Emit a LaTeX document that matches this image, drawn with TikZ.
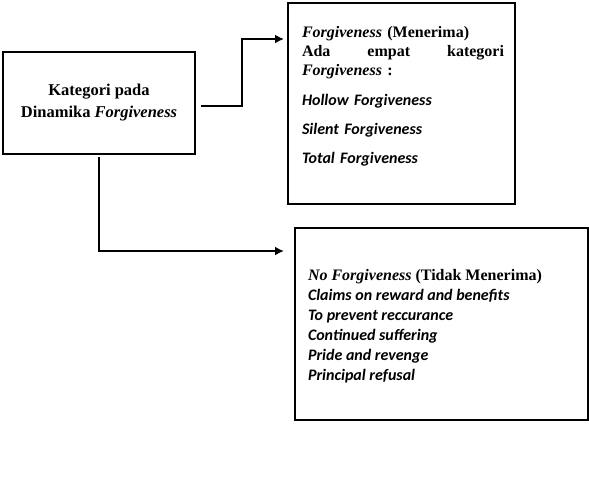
\documentclass[tikz,border=0pt]{standalone}
\usepackage{fontspec}
\setmainfont{Liberation Serif}
\newfontfamily\calibri{Carlito}
\usetikzlibrary{arrows.meta,positioning}
\newcommand\cb[1]{{\calibri\bfseries\itshape #1}}
\tikzset{every picture/.append style={line width=2pt}}

\begin{document}
\begin{tikzpicture}[x=1pt,y=-1pt]
      \tikzstyle{kotak}=[draw,rectangle,line width=2.2pt,inner sep=0pt]
      \tikzstyle{isi}=[inner sep=0pt,anchor=north west,font=\fontsize{16}{19}\selectfont\bfseries]
      \tikzstyle{panah}=[-{Latex[length=9pt,width=9pt]}]
      \useasboundingbox (0,0) rectangle (589,496);
      % kotak utama
      \node[kotak,minimum width=192pt,minimum height=102pt,align=center,
        font=\fontsize{16.5}{22}\selectfont\bfseries] at (99,103) (K)
        {Kategori pada\\Dinamika \textit{Forgiveness}};
      % kotak menerima
      \node[kotak,minimum width=227pt,minimum height=201pt] at (401.5,103.5) (M) {};
      \node[isi,text width=202pt,align=left] at (301,25) (Mt)
        {\textit{Forgiveness} (Menerima)\\
         Ada \hfill empat \hfill kategori\\
         \textit{Forgiveness} :\\[11pt]
         \cb{Hollow Forgiveness}\\[10pt]
         \cb{Silent Forgiveness}\\[10pt]
         \cb{Total Forgiveness}};
      % kotak tidak menerima
      \node[kotak,minimum width=293pt,minimum height=192pt] at (441.5,324) (T) {};
      \node[isi,align=left,font=\fontsize{16}{20}\selectfont\bfseries] at (307,268) (Tt)
        {\textit{No Forgiveness} (Tidak Menerima)\\
         \cb{Claims on reward and benefits}\\
         \cb{To prevent reccurance}\\
         \cb{Continued suffering}\\
         \cb{Pride and revenge}\\
         \cb{Principal refusal}};
      % panah
      \coordinate (a1) at (201,106);
      \coordinate (b1) at (284,39);
      \coordinate (a2) at (99,157);
      \coordinate (b2) at (284,251);
      \draw[panah] (a1) -- (242,106) |- (b1);
      \draw[panah] (a2) |- (b2);
    \end{tikzpicture}
\end{document}
